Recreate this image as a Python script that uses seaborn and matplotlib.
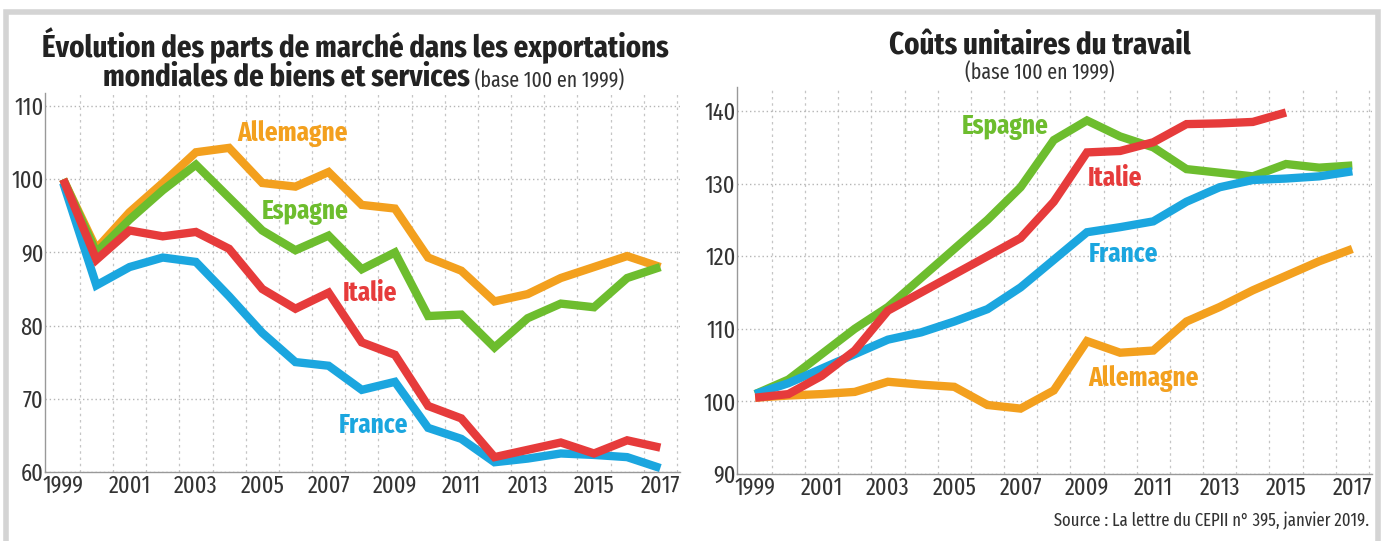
import matplotlib
matplotlib.use("Agg")
import matplotlib.pyplot as plt
import matplotlib.ticker as mticker
from matplotlib.patches import Rectangle
import numpy as np
import pandas as pd
import seaborn as sns

years = list(range(1999, 2018))

# parts de marche (base 100 en 1999)
pm_france = [99.5, 85.5, 88, 89.3, 88.7, 84, 79, 75, 74.5, 71.2, 72.3, 66, 64.5, 61.3, 61.8, 62.5, 62.3, 62, 60.5]
pm_italie = [100, 89, 93, 92.2, 92.8, 90.5, 85, 82.3, 84.5, 77.7, 76, 69, 67.3, 62, 63, 64, 62.5, 64.3, 63.3]
pm_espagne = [100, 90, 94.5, 98.5, 102, 97.5, 93, 90.3, 92.3, 87.7, 90, 81.3, 81.5, 77, 81, 83, 82.5, 86.5, 88]
pm_allemagne = [100, 90.5, 95.5, 99.5, 103.7, 104.3, 99.5, 99, 101, 96.5, 96, 89.3, 87.5, 83.3, 84.3, 86.5, 88, 89.5, 88]

# couts unitaires du travail (base 100 en 1999)
cu_france = [101, 102.5, 104.5, 106.5, 108.5, 109.5, 111, 112.7, 115.7, 119.5, 123.3, 124, 124.8, 127.5, 129.5, 130.5, 130.7, 131, 131.7]
cu_italie = [100.5, 101, 103.5, 107, 112.5, 115, 117.5, 120, 122.5, 127.5, 134.3, 134.5, 135.7, 138.2, 138.3, 138.5, 139.8, np.nan, np.nan]
cu_espagne = [101, 103, 106.5, 110, 113, 117, 121, 125, 129.5, 136, 138.7, 136.5, 135, 132, 131.5, 131, 132.7, 132.2, 132.5]
cu_allemagne = [100.5, 100.8, 101, 101.3, 102.7, 102.3, 102, 99.5, 99, 101.5, 108.3, 106.7, 107, 111, 113, 115.3, 117.3, 119.3, 121]

order = ["Allemagne", "Espagne", "France", "Italie"]
colors = {"France": "#1ba6df", "Italie": "#e63b3b", "Espagne": "#6dbd2e", "Allemagne": "#f3a01e"}

# label positions (year, value)
pm_labels = {"Allemagne": (2005.9, 106.3), "Espagne": (2006.3, 95.5), "Italie": (2008.25, 84.4), "France": (2008.35, 66.4)}
cu_labels = {"Espagne": (2006.55, 137.8), "Italie": (2009.85, 130.8), "France": (2010.1, 120.2), "Allemagne": (2010.7, 103.2)}

def long_df(series):
    rows = []
    for name, vals in series.items():
        for y, v in zip(years, vals):
            rows.append((y, v, name))
    return pd.DataFrame(rows, columns=["annee", "valeur", "pays"])

df_pm = long_df({"France": pm_france, "Italie": pm_italie, "Espagne": pm_espagne, "Allemagne": pm_allemagne})
df_cu = long_df({"France": cu_france, "Italie": cu_italie, "Espagne": cu_espagne, "Allemagne": cu_allemagne})

sns.set_theme(style="white")
narrow = ["Fira Sans Extra Condensed", "DejaVu Sans"]
plt.rcParams["font.family"] = narrow

fig = plt.figure(figsize=(13.84, 5.41), dpi=100)
ax1 = fig.add_axes([0.0325, 0.128, 0.459, 0.70])
ax2 = fig.add_axes([0.5325, 0.124, 0.459, 0.715])

# grey frame
fig.patches.append(Rectangle((0.0043, -0.05), 0.9913, 1.027, transform=fig.transFigure,
                             fill=False, edgecolor="#d4d4d4", linewidth=4, zorder=0))

def style(ax, ylim, yticks, data, labels):
    sns.lineplot(data=data, x="annee", y="valeur", hue="pays", hue_order=order,
                 palette=colors, linewidth=6, legend=False, ax=ax)
    for ln in ax.lines:
        ln.set_solid_capstyle("butt")
        ln.set_solid_joinstyle("miter")
    ax.set_xlim(1998.45, 2017.6)
    ax.set_ylim(*ylim)
    ax.set_xticks(list(range(1999, 2018, 2)))
    ax.set_yticks(yticks)
    ax.xaxis.set_minor_locator(mticker.FixedLocator(np.arange(1999.5, 2018, 1)))
    ax.grid(True, which="major", axis="y", linestyle=(0, (1, 2)), color="#b5b5b5", linewidth=1)
    ax.grid(True, which="minor", axis="x", linestyle=(0, (2, 3)), color="#c5c5c5", linewidth=0.9)
    ax.set_axisbelow(True)
    ax.tick_params(axis="both", which="both", length=0, labelsize=17.5, colors="#333333", pad=2)
    ax.tick_params(axis="y", pad=1)
    ax.set_xlabel("")
    ax.set_ylabel("")
    for s in ["top", "right"]:
        ax.spines[s].set_visible(False)
    for s in ["left", "bottom"]:
        ax.spines[s].set_color("#999999")
        ax.spines[s].set_linewidth(1)
    for name, (x, y) in labels.items():
        ax.text(x, y, name, color=colors[name], fontsize=19.5, fontweight="bold",
                ha="center", va="center")

style(ax1, (60, 111.8), [60, 70, 80, 90, 100, 110], df_pm, pm_labels)
style(ax2, (90, 143.3), [90, 100, 110, 120, 130, 140], df_cu, cu_labels)

# titles
fig.text(0.257, 0.915, "Évolution des parts de marché dans les exportations", ha="center", va="center",
         fontsize=22.5, fontweight="bold", color="#222222")
t2 = fig.text(0.0745, 0.842, "mondiales de biens et services", ha="left", va="baseline",
              fontsize=22.5, fontweight="bold", color="#222222")
ax1.annotate(" (base 100 en 1999)", xy=(1, 0), xycoords=t2, va="bottom", ha="left",
             fontsize=15.5, color="#333333", annotation_clip=False)

fig.text(0.751, 0.915, "Coûts unitaires du travail", ha="center", va="center",
         fontsize=22.5, fontweight="bold", color="#222222")
fig.text(0.751, 0.864, "(base 100 en 1999)", ha="center", va="center",
         fontsize=15.5, color="#333333")

fig.text(0.989, 0.037, "Source : La lettre du CEPII n° 395, janvier 2019.", ha="right", va="center",
         fontsize=13, color="#333333")

fig.savefig("out.png", dpi=100, facecolor="white")
